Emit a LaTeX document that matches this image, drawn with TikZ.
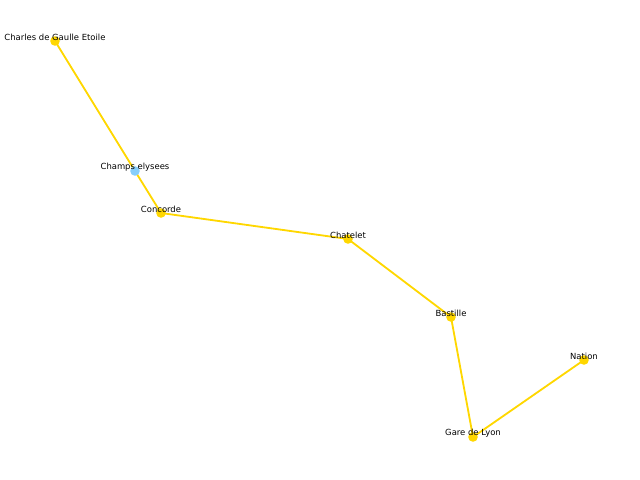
\documentclass[tikz,border=0pt]{standalone}
\usepackage{fontspec}
\setsansfont{DejaVu Sans}
\usetikzlibrary{backgrounds}
\definecolor{lineyellow}{HTML}{FFD700}
\definecolor{stopblue}{HTML}{87CEFA}
\tikzset{
  stop/.style={circle,fill=#1,inner sep=0pt,minimum size=0.24cm},
  stoplabel/.style={font=\fontsize{6}{7}\sffamily,inner sep=0pt,yshift=2.4pt},
  track/.style={lineyellow,line width=1.3pt}
}

\begin{document}
\begin{tikzpicture}[x=0.025cm,y=-0.025cm]
  \useasboundingbox (0,0) rectangle (640,480);
  \foreach \nm/\px/\py/\txt/\col in {
      cdg/55/41/Charles de Gaulle Etoile/lineyellow,
      champs/135/171/Champs elysees/stopblue,
      concorde/161/213/Concorde/lineyellow,
      chatelet/348/239/Chatelet/lineyellow,
      bastille/451/317/Bastille/lineyellow,
      gdl/473/437/Gare de Lyon/lineyellow,
      nation/584/360/Nation/lineyellow}{
    \node[stop=\col,label={[stoplabel]center:\txt}] (\nm) at (\px,\py) {};
  }
  \begin{pgfonlayer}{background}
    \foreach \a/\b in {cdg/champs,champs/concorde,concorde/chatelet,
                       chatelet/bastille,bastille/gdl,gdl/nation}
      \draw[track] (\a.center) -- (\b.center);
  \end{pgfonlayer}
\end{tikzpicture}
\end{document}
